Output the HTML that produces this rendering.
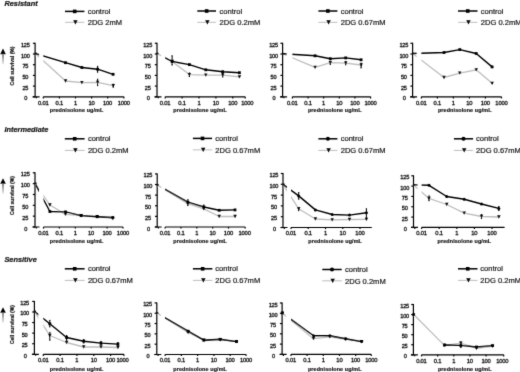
<!DOCTYPE html>
<html><head><meta charset="utf-8"><style>
html,body{margin:0;padding:0;background:#fff;}
body{width:520px;height:372px;overflow:hidden;}
svg{display:block;font-family:"Liberation Sans", sans-serif;}
text{stroke:#111;stroke-width:0.18px;}
</style></head><body>
<svg width="520" height="372" viewBox="0 0 520 372">
<defs><linearGradient id="ag" x1="0" y1="0" x2="0" y2="1"><stop offset="0" stop-color="#777"/><stop offset="1" stop-color="#e8e8e8"/></linearGradient><filter id="bl" filterUnits="userSpaceOnUse" x="0" y="0" width="520" height="372"><feConvolveMatrix order="3" kernelMatrix="0.0113 0.0838 0.0113 0.0838 0.6193 0.0838 0.0113 0.0838 0.0113" edgeMode="none"/></filter></defs>
<rect width="520" height="372" fill="#fff"/>
<g fill="#111" filter="url(#bl)">
<text x="4.4" y="5.7" font-size="7.4" font-weight="bold" font-style="italic">Resistant</text>
<path d="M35.1 42.8V97.3" stroke="#000" stroke-width="1.2"/>
<path d="M32.9 96.8H35.1" stroke="#000" stroke-width="1.2"/>
<text transform="translate(25.8 100.3) scale(1.0 1)" font-size="5.6" font-weight="normal" text-anchor="middle" letter-spacing="-0.2" style="stroke-width:0.3px">0</text>
<path d="M32.9 86.1H35.1" stroke="#000" stroke-width="1.2"/>
<text transform="translate(25.3 89.6) scale(1.0 1)" font-size="5.6" font-weight="normal" text-anchor="middle" letter-spacing="-0.2" style="stroke-width:0.3px">25</text>
<path d="M32.9 75.4H35.1" stroke="#000" stroke-width="1.2"/>
<text transform="translate(25.3 78.9) scale(1.0 1)" font-size="5.6" font-weight="normal" text-anchor="middle" letter-spacing="-0.2" style="stroke-width:0.3px">50</text>
<path d="M32.9 64.7H35.1" stroke="#000" stroke-width="1.2"/>
<text transform="translate(25.3 68.2) scale(1.0 1)" font-size="5.6" font-weight="normal" text-anchor="middle" letter-spacing="-0.2" style="stroke-width:0.3px">75</text>
<path d="M32.9 54H35.1" stroke="#000" stroke-width="1.2"/>
<text transform="translate(25.3 57.5) scale(1.0 1)" font-size="5.6" font-weight="normal" text-anchor="middle" letter-spacing="-0.2" style="stroke-width:0.3px">100</text>
<path d="M32.9 43.3H35.1" stroke="#000" stroke-width="1.2"/>
<text transform="translate(25.3 46.8) scale(1.0 1)" font-size="5.6" font-weight="normal" text-anchor="middle" letter-spacing="-0.2" style="stroke-width:0.3px">125</text>
<path d="M32.6 96.8H39.6M36.4 96.8V98.3" stroke="#000" stroke-width="1.2"/>
<path d="M43.3 96.8H123.9" stroke="#000" stroke-width="1.2"/>
<path d="M43.3 96.8V98.4" stroke="#000" stroke-width="1.2"/>
<text transform="translate(43.2 104.7) scale(1.0 1)" font-size="5.8" font-weight="normal" text-anchor="middle" letter-spacing="-0.2" style="stroke-width:0.3px">0.01</text>
<path d="M59.4 96.8V98.4" stroke="#000" stroke-width="1.2"/>
<text transform="translate(59.3 104.7) scale(1.0 1)" font-size="5.8" font-weight="normal" text-anchor="middle" letter-spacing="-0.2" style="stroke-width:0.3px">0.1</text>
<path d="M75.5 96.8V98.4" stroke="#000" stroke-width="1.2"/>
<text transform="translate(75.4 104.7) scale(1.0 1)" font-size="5.8" font-weight="normal" text-anchor="middle" letter-spacing="-0.2" style="stroke-width:0.3px">1</text>
<path d="M91.6 96.8V98.4" stroke="#000" stroke-width="1.2"/>
<text transform="translate(91.5 104.7) scale(1.0 1)" font-size="5.8" font-weight="normal" text-anchor="middle" letter-spacing="-0.2" style="stroke-width:0.3px">10</text>
<path d="M107.7 96.8V98.4" stroke="#000" stroke-width="1.2"/>
<text transform="translate(107.6 104.7) scale(1.0 1)" font-size="5.8" font-weight="normal" text-anchor="middle" letter-spacing="-0.2" style="stroke-width:0.3px">100</text>
<path d="M123.9 96.8V98.4" stroke="#000" stroke-width="1.2"/>
<text transform="translate(123.8 104.7) scale(1.0 1)" font-size="5.8" font-weight="normal" text-anchor="middle" letter-spacing="-0.2" style="stroke-width:0.3px">1000</text>
<text x="76.6" y="111.6" font-size="5.4" font-weight="bold" letter-spacing="0.12" text-anchor="middle">prednisolone ug/mL</text>
<clipPath id="clip0"><path d="M36 0H520V372H36ZM39.1 23.3H43.3V99.8H39.1Z" clip-rule="evenodd"/></clipPath>
<polyline points="35.1,53.4 65.6,81 81.9,82.7 97.6,82.4 113.2,85.6" fill="none" stroke="#bdbdbd" stroke-width="1.3" stroke-linejoin="round" clip-path="url(#clip0)"/>
<polyline points="35.1,53.4 65.5,62.7 81.9,67.5 97.6,69.2 113.1,74.3" fill="none" stroke="#000" stroke-width="1.4" stroke-linejoin="round" clip-path="url(#clip0)"/>
<path d="M63.79 79.33H67.41L65.6 82.67Z" fill="#000"/>
<path d="M80.09 81.03H83.71L81.9 84.37Z" fill="#000"/>
<path d="M97.6 79.2V85.6M97 79.2H98.2M97 85.6H98.2" stroke="#000" stroke-width="1.0" fill="none"/>
<path d="M95.79 80.73H99.41L97.6 84.07Z" fill="#000"/>
<path d="M113.2 84.2V87.2M112.6 84.2H113.8M112.6 87.2H113.8" stroke="#000" stroke-width="1.0" fill="none"/>
<path d="M111.39 83.93H115.01L113.2 87.27Z" fill="#000"/>
<rect x="34.5" y="52.6" width="2.2" height="1.6"/>
<rect x="64.1" y="61.3" width="2.8" height="2.8" fill="#000"/>
<rect x="80.5" y="66.1" width="2.8" height="2.8" fill="#000"/>
<path d="M97.6 66.3V72.2M97 66.3H98.2M97 72.2H98.2" stroke="#000" stroke-width="1.0" fill="none"/>
<rect x="96.2" y="67.8" width="2.8" height="2.8" fill="#000"/>
<rect x="111.7" y="72.9" width="2.8" height="2.8" fill="#000"/>
<path d="M65 11.4H84.4" stroke="#000" stroke-width="1.5"/>
<rect x="72.9" y="9.6" width="3.6" height="3.6" fill="#000"/>
<text x="87.7" y="14" font-size="7.55">control</text>
<path d="M65 22.3H84.4" stroke="#bdbdbd" stroke-width="1"/>
<path d="M73.09 20.17H77.71L75.4 24.43Z" fill="#000"/>
<text x="87.7" y="25.05" font-size="7.55">2DG 2mM</text>
<text transform="translate(13.8 66) rotate(-90) scale(0.92 1)" font-size="5.5" font-weight="bold" text-anchor="middle">Cell survival (%)</text>
<path d="M3 48.6L5.8 54.2H0.2Z" fill="#000"/>
<rect x="2.1" y="54.2" width="1.8" height="10" fill="url(#ag)"/>
<path d="M157 42.8V97.3" stroke="#000" stroke-width="1.2"/>
<path d="M154.8 96.8H157" stroke="#000" stroke-width="1.2"/>
<text transform="translate(148.2 100.3) scale(1.0 1)" font-size="5.6" font-weight="normal" text-anchor="middle" letter-spacing="-0.2" style="stroke-width:0.3px">0</text>
<path d="M154.8 86.1H157" stroke="#000" stroke-width="1.2"/>
<text transform="translate(147.7 89.6) scale(1.0 1)" font-size="5.6" font-weight="normal" text-anchor="middle" letter-spacing="-0.2" style="stroke-width:0.3px">25</text>
<path d="M154.8 75.4H157" stroke="#000" stroke-width="1.2"/>
<text transform="translate(147.7 78.9) scale(1.0 1)" font-size="5.6" font-weight="normal" text-anchor="middle" letter-spacing="-0.2" style="stroke-width:0.3px">50</text>
<path d="M154.8 64.7H157" stroke="#000" stroke-width="1.2"/>
<text transform="translate(147.7 68.2) scale(1.0 1)" font-size="5.6" font-weight="normal" text-anchor="middle" letter-spacing="-0.2" style="stroke-width:0.3px">75</text>
<path d="M154.8 54H157" stroke="#000" stroke-width="1.2"/>
<text transform="translate(147.7 57.5) scale(1.0 1)" font-size="5.6" font-weight="normal" text-anchor="middle" letter-spacing="-0.2" style="stroke-width:0.3px">100</text>
<path d="M154.8 43.3H157" stroke="#000" stroke-width="1.2"/>
<text transform="translate(147.7 46.8) scale(1.0 1)" font-size="5.6" font-weight="normal" text-anchor="middle" letter-spacing="-0.2" style="stroke-width:0.3px">125</text>
<path d="M154.5 96.8H161.5M158.3 96.8V98.3" stroke="#000" stroke-width="1.2"/>
<path d="M165.2 96.8H245.2" stroke="#000" stroke-width="1.2"/>
<path d="M165.2 96.8V98.4" stroke="#000" stroke-width="1.2"/>
<text transform="translate(165.1 104.7) scale(1.0 1)" font-size="5.8" font-weight="normal" text-anchor="middle" letter-spacing="-0.2" style="stroke-width:0.3px">0.01</text>
<path d="M182.1 96.8V98.4" stroke="#000" stroke-width="1.2"/>
<text transform="translate(182 104.7) scale(1.0 1)" font-size="5.8" font-weight="normal" text-anchor="middle" letter-spacing="-0.2" style="stroke-width:0.3px">0.1</text>
<path d="M199 96.8V98.4" stroke="#000" stroke-width="1.2"/>
<text transform="translate(198.9 104.7) scale(1.0 1)" font-size="5.8" font-weight="normal" text-anchor="middle" letter-spacing="-0.2" style="stroke-width:0.3px">1</text>
<path d="M215.9 96.8V98.4" stroke="#000" stroke-width="1.2"/>
<text transform="translate(215.8 104.7) scale(1.0 1)" font-size="5.8" font-weight="normal" text-anchor="middle" letter-spacing="-0.2" style="stroke-width:0.3px">10</text>
<path d="M232.8 96.8V98.4" stroke="#000" stroke-width="1.2"/>
<text transform="translate(232.7 104.7) scale(1.0 1)" font-size="5.8" font-weight="normal" text-anchor="middle" letter-spacing="-0.2" style="stroke-width:0.3px">100</text>
<path d="M245.2 96.8V98.4" stroke="#000" stroke-width="1.2"/>
<text transform="translate(247.3 104.7) scale(1.0 1)" font-size="5.8" font-weight="normal" text-anchor="middle" letter-spacing="-0.2" style="stroke-width:0.3px">1000</text>
<text x="200.1" y="111.6" font-size="5.4" font-weight="bold" letter-spacing="0.12" text-anchor="middle">prednisolone ug/mL</text>
<clipPath id="clip1"><path d="M157.9 0H520V372H157.9ZM161 23.3H165.2V99.8H161Z" clip-rule="evenodd"/></clipPath>
<polyline points="157,53.5 172.1,61.5 189.4,74.6 205.8,75.2 222.7,75.2 239.4,76.9" fill="none" stroke="#bdbdbd" stroke-width="1.3" stroke-linejoin="round" clip-path="url(#clip1)"/>
<clipPath id="clip1n"><rect x="165.2" y="0" width="520" height="372"/></clipPath>
<polyline points="157,53.5 172.1,61.5 189.4,64.6 205.8,69.8 222.7,71.7 239.4,72.7" fill="none" stroke="#000" stroke-width="1.4" stroke-linejoin="round" clip-path="url(#clip1n)"/>
<path d="M170.29 59.83H173.91L172.1 63.17Z" fill="#000"/>
<path d="M189.4 73V76.5M188.8 73H190M188.8 76.5H190" stroke="#000" stroke-width="1.0" fill="none"/>
<path d="M187.59 72.93H191.21L189.4 76.27Z" fill="#000"/>
<path d="M203.99 73.53H207.61L205.8 76.87Z" fill="#000"/>
<path d="M222.7 73.5V77M222.1 73.5H223.3M222.1 77H223.3" stroke="#000" stroke-width="1.0" fill="none"/>
<path d="M220.89 73.53H224.51L222.7 76.87Z" fill="#000"/>
<path d="M237.59 75.23H241.21L239.4 78.57Z" fill="#000"/>
<rect x="156.4" y="52.7" width="2.2" height="1.6"/>
<path d="M172.1 55.8V65M171.5 55.8H172.7M171.5 65H172.7" stroke="#000" stroke-width="1.0" fill="none"/>
<rect x="170.7" y="60.1" width="2.8" height="2.8" fill="#000"/>
<rect x="188" y="63.2" width="2.8" height="2.8" fill="#000"/>
<rect x="204.4" y="68.4" width="2.8" height="2.8" fill="#000"/>
<rect x="221.3" y="70.3" width="2.8" height="2.8" fill="#000"/>
<rect x="238" y="71.3" width="2.8" height="2.8" fill="#000"/>
<path d="M197.3 11H216" stroke="#000" stroke-width="1.5"/>
<rect x="204.85" y="9.2" width="3.6" height="3.6" fill="#000"/>
<text x="219.6" y="13.6" font-size="7.55">control</text>
<path d="M197.3 22.3H216" stroke="#bdbdbd" stroke-width="1"/>
<path d="M205.04 20.17H209.66L207.35 24.43Z" fill="#000"/>
<text x="219.6" y="25.05" font-size="7.55">2DG 0.2mM</text>
<path d="M282.6 42.8V97.3" stroke="#000" stroke-width="1.2"/>
<path d="M280.4 96.8H282.6" stroke="#000" stroke-width="1.2"/>
<text transform="translate(274 100.3) scale(1.0 1)" font-size="5.6" font-weight="normal" text-anchor="middle" letter-spacing="-0.2" style="stroke-width:0.3px">0</text>
<path d="M280.4 86.1H282.6" stroke="#000" stroke-width="1.2"/>
<text transform="translate(273.5 89.6) scale(1.0 1)" font-size="5.6" font-weight="normal" text-anchor="middle" letter-spacing="-0.2" style="stroke-width:0.3px">25</text>
<path d="M280.4 75.4H282.6" stroke="#000" stroke-width="1.2"/>
<text transform="translate(273.5 78.9) scale(1.0 1)" font-size="5.6" font-weight="normal" text-anchor="middle" letter-spacing="-0.2" style="stroke-width:0.3px">50</text>
<path d="M280.4 64.7H282.6" stroke="#000" stroke-width="1.2"/>
<text transform="translate(273.5 68.2) scale(1.0 1)" font-size="5.6" font-weight="normal" text-anchor="middle" letter-spacing="-0.2" style="stroke-width:0.3px">75</text>
<path d="M280.4 54H282.6" stroke="#000" stroke-width="1.2"/>
<text transform="translate(273.5 57.5) scale(1.0 1)" font-size="5.6" font-weight="normal" text-anchor="middle" letter-spacing="-0.2" style="stroke-width:0.3px">100</text>
<path d="M280.4 43.3H282.6" stroke="#000" stroke-width="1.2"/>
<text transform="translate(273.5 46.8) scale(1.0 1)" font-size="5.6" font-weight="normal" text-anchor="middle" letter-spacing="-0.2" style="stroke-width:0.3px">125</text>
<path d="M280.1 96.8H287.1M283.9 96.8V98.3" stroke="#000" stroke-width="1.2"/>
<path d="M292.4 96.8H370.6" stroke="#000" stroke-width="1.2"/>
<path d="M292.4 96.8V98.4" stroke="#000" stroke-width="1.2"/>
<text transform="translate(292.3 104.7) scale(1.0 1)" font-size="5.8" font-weight="normal" text-anchor="middle" letter-spacing="-0.2" style="stroke-width:0.3px">0.01</text>
<path d="M308.04 96.8V98.4" stroke="#000" stroke-width="1.2"/>
<text transform="translate(307.94 104.7) scale(1.0 1)" font-size="5.8" font-weight="normal" text-anchor="middle" letter-spacing="-0.2" style="stroke-width:0.3px">0.1</text>
<path d="M323.68 96.8V98.4" stroke="#000" stroke-width="1.2"/>
<text transform="translate(323.58 104.7) scale(1.0 1)" font-size="5.8" font-weight="normal" text-anchor="middle" letter-spacing="-0.2" style="stroke-width:0.3px">1</text>
<path d="M339.32 96.8V98.4" stroke="#000" stroke-width="1.2"/>
<text transform="translate(339.22 104.7) scale(1.0 1)" font-size="5.8" font-weight="normal" text-anchor="middle" letter-spacing="-0.2" style="stroke-width:0.3px">10</text>
<path d="M354.96 96.8V98.4" stroke="#000" stroke-width="1.2"/>
<text transform="translate(354.86 104.7) scale(1.0 1)" font-size="5.8" font-weight="normal" text-anchor="middle" letter-spacing="-0.2" style="stroke-width:0.3px">100</text>
<path d="M370.6 96.8V98.4" stroke="#000" stroke-width="1.2"/>
<text transform="translate(370.5 104.7) scale(1.0 1)" font-size="5.8" font-weight="normal" text-anchor="middle" letter-spacing="-0.2" style="stroke-width:0.3px">1000</text>
<text x="334.8" y="111.6" font-size="5.4" font-weight="bold" letter-spacing="0.12" text-anchor="middle">prednisolone ug/mL</text>
<clipPath id="clip2"><path d="M283.5 0H520V372H283.5ZM286.6 23.3H292.4V99.8H286.6Z" clip-rule="evenodd"/></clipPath>
<polyline points="282.6,53.7 315.1,67.3 330.3,62.7 345.7,63.1 361.1,65" fill="none" stroke="#bdbdbd" stroke-width="1.3" stroke-linejoin="round" clip-path="url(#clip2)"/>
<polyline points="282.6,53.7 315.1,55.8 330.3,58.7 345.7,57.9 361.1,59.8" fill="none" stroke="#000" stroke-width="1.4" stroke-linejoin="round" clip-path="url(#clip2)"/>
<path d="M313.29 65.63H316.91L315.1 68.97Z" fill="#000"/>
<path d="M330.3 61.2V64.5M329.7 61.2H330.9M329.7 64.5H330.9" stroke="#000" stroke-width="1.0" fill="none"/>
<path d="M328.49 61.03H332.11L330.3 64.37Z" fill="#000"/>
<path d="M345.7 61.5V64.8M345.1 61.5H346.3M345.1 64.8H346.3" stroke="#000" stroke-width="1.0" fill="none"/>
<path d="M343.89 61.43H347.51L345.7 64.77Z" fill="#000"/>
<path d="M361.1 63.2V67.9M360.5 63.2H361.7M360.5 67.9H361.7" stroke="#000" stroke-width="1.0" fill="none"/>
<path d="M359.29 63.33H362.91L361.1 66.67Z" fill="#000"/>
<rect x="282" y="52.9" width="2.2" height="1.6"/>
<rect x="313.7" y="54.4" width="2.8" height="2.8" fill="#000"/>
<rect x="328.9" y="57.3" width="2.8" height="2.8" fill="#000"/>
<rect x="344.3" y="56.5" width="2.8" height="2.8" fill="#000"/>
<rect x="359.7" y="58.4" width="2.8" height="2.8" fill="#000"/>
<path d="M318.4 11H337.4" stroke="#000" stroke-width="1.5"/>
<rect x="326.1" y="9.2" width="3.6" height="3.6" fill="#000"/>
<text x="340.7" y="13.6" font-size="7.55">control</text>
<path d="M318.4 22.3H337.4" stroke="#bdbdbd" stroke-width="1"/>
<path d="M326.29 20.17H330.91L328.6 24.43Z" fill="#000"/>
<text x="340.7" y="25.05" font-size="7.55">2DG 0.67mM</text>
<path d="M412.6 42.8V97.3" stroke="#000" stroke-width="1.2"/>
<path d="M410.4 96.8H412.6" stroke="#000" stroke-width="1.2"/>
<text transform="translate(404.3 100.3) scale(1.0 1)" font-size="5.6" font-weight="normal" text-anchor="middle" letter-spacing="-0.2" style="stroke-width:0.3px">0</text>
<path d="M410.4 86.1H412.6" stroke="#000" stroke-width="1.2"/>
<text transform="translate(403.8 89.6) scale(1.0 1)" font-size="5.6" font-weight="normal" text-anchor="middle" letter-spacing="-0.2" style="stroke-width:0.3px">25</text>
<path d="M410.4 75.4H412.6" stroke="#000" stroke-width="1.2"/>
<text transform="translate(403.8 78.9) scale(1.0 1)" font-size="5.6" font-weight="normal" text-anchor="middle" letter-spacing="-0.2" style="stroke-width:0.3px">50</text>
<path d="M410.4 64.7H412.6" stroke="#000" stroke-width="1.2"/>
<text transform="translate(403.8 68.2) scale(1.0 1)" font-size="5.6" font-weight="normal" text-anchor="middle" letter-spacing="-0.2" style="stroke-width:0.3px">75</text>
<path d="M410.4 54H412.6" stroke="#000" stroke-width="1.2"/>
<text transform="translate(403.8 57.5) scale(1.0 1)" font-size="5.6" font-weight="normal" text-anchor="middle" letter-spacing="-0.2" style="stroke-width:0.3px">100</text>
<path d="M410.4 43.3H412.6" stroke="#000" stroke-width="1.2"/>
<text transform="translate(403.8 46.8) scale(1.0 1)" font-size="5.6" font-weight="normal" text-anchor="middle" letter-spacing="-0.2" style="stroke-width:0.3px">125</text>
<path d="M410.1 96.8H417.1M413.9 96.8V98.3" stroke="#000" stroke-width="1.2"/>
<path d="M421.4 96.8H501.5" stroke="#000" stroke-width="1.2"/>
<path d="M421.4 96.8V98.4" stroke="#000" stroke-width="1.2"/>
<text transform="translate(421.3 104.7) scale(1.0 1)" font-size="5.8" font-weight="normal" text-anchor="middle" letter-spacing="-0.2" style="stroke-width:0.3px">0.01</text>
<path d="M437.4 96.8V98.4" stroke="#000" stroke-width="1.2"/>
<text transform="translate(437.3 104.7) scale(1.0 1)" font-size="5.8" font-weight="normal" text-anchor="middle" letter-spacing="-0.2" style="stroke-width:0.3px">0.1</text>
<path d="M453.4 96.8V98.4" stroke="#000" stroke-width="1.2"/>
<text transform="translate(453.3 104.7) scale(1.0 1)" font-size="5.8" font-weight="normal" text-anchor="middle" letter-spacing="-0.2" style="stroke-width:0.3px">1</text>
<path d="M469.4 96.8V98.4" stroke="#000" stroke-width="1.2"/>
<text transform="translate(469.3 104.7) scale(1.0 1)" font-size="5.8" font-weight="normal" text-anchor="middle" letter-spacing="-0.2" style="stroke-width:0.3px">10</text>
<path d="M485.4 96.8V98.4" stroke="#000" stroke-width="1.2"/>
<text transform="translate(485.3 104.7) scale(1.0 1)" font-size="5.8" font-weight="normal" text-anchor="middle" letter-spacing="-0.2" style="stroke-width:0.3px">100</text>
<path d="M501.5 96.8V98.4" stroke="#000" stroke-width="1.2"/>
<text transform="translate(501.4 104.7) scale(1.0 1)" font-size="5.8" font-weight="normal" text-anchor="middle" letter-spacing="-0.2" style="stroke-width:0.3px">1000</text>
<text x="464.8" y="111.6" font-size="5.4" font-weight="bold" letter-spacing="0.12" text-anchor="middle">prednisolone ug/mL</text>
<clipPath id="clip3"><path d="M413.5 0H520V372H413.5ZM416.6 23.3H421.4V99.8H416.6Z" clip-rule="evenodd"/></clipPath>
<polyline points="412.6,53.5 444,77.5 459.8,73.1 476.2,69.8 492.1,83.3" fill="none" stroke="#bdbdbd" stroke-width="1.3" stroke-linejoin="round" clip-path="url(#clip3)"/>
<polyline points="412.6,53.5 444,52.5 459.8,49.6 476.2,53.5 492.1,66.9" fill="none" stroke="#000" stroke-width="1.4" stroke-linejoin="round" clip-path="url(#clip3)"/>
<path d="M442.19 75.83H445.81L444 79.17Z" fill="#000"/>
<path d="M457.99 71.43H461.61L459.8 74.77Z" fill="#000"/>
<path d="M474.39 68.13H478.01L476.2 71.47Z" fill="#000"/>
<path d="M490.29 81.63H493.91L492.1 84.97Z" fill="#000"/>
<rect x="412" y="52.7" width="2.2" height="1.6"/>
<rect x="442.6" y="51.1" width="2.8" height="2.8" fill="#000"/>
<rect x="458.4" y="48.2" width="2.8" height="2.8" fill="#000"/>
<rect x="474.8" y="52.1" width="2.8" height="2.8" fill="#000"/>
<rect x="490.7" y="65.5" width="2.8" height="2.8" fill="#000"/>
<path d="M458 11H477.5" stroke="#000" stroke-width="1.5"/>
<rect x="465.95" y="9.2" width="3.6" height="3.6" fill="#000"/>
<text x="480.8" y="13.6" font-size="7.55">control</text>
<path d="M458 22.3H477.5" stroke="#bdbdbd" stroke-width="1"/>
<path d="M466.14 20.17H470.76L468.45 24.43Z" fill="#000"/>
<text x="480.8" y="25.05" font-size="7.55">2DG 0.2mM</text>
<text x="4.4" y="131.9" font-size="7.4" font-weight="bold" font-style="italic">Intermediate</text>
<path d="M35 172.3V227.5" stroke="#000" stroke-width="1.2"/>
<path d="M32.8 227H35" stroke="#000" stroke-width="1.2"/>
<text transform="translate(25.7 230.5) scale(1.0 1)" font-size="5.6" font-weight="normal" text-anchor="middle" letter-spacing="-0.2" style="stroke-width:0.3px">0</text>
<path d="M32.8 216.16H35" stroke="#000" stroke-width="1.2"/>
<text transform="translate(25.2 219.66) scale(1.0 1)" font-size="5.6" font-weight="normal" text-anchor="middle" letter-spacing="-0.2" style="stroke-width:0.3px">25</text>
<path d="M32.8 205.32H35" stroke="#000" stroke-width="1.2"/>
<text transform="translate(25.2 208.82) scale(1.0 1)" font-size="5.6" font-weight="normal" text-anchor="middle" letter-spacing="-0.2" style="stroke-width:0.3px">50</text>
<path d="M32.8 194.48H35" stroke="#000" stroke-width="1.2"/>
<text transform="translate(25.2 197.98) scale(1.0 1)" font-size="5.6" font-weight="normal" text-anchor="middle" letter-spacing="-0.2" style="stroke-width:0.3px">75</text>
<path d="M32.8 183.64H35" stroke="#000" stroke-width="1.2"/>
<text transform="translate(25.2 187.14) scale(1.0 1)" font-size="5.6" font-weight="normal" text-anchor="middle" letter-spacing="-0.2" style="stroke-width:0.3px">100</text>
<path d="M32.8 172.8H35" stroke="#000" stroke-width="1.2"/>
<text transform="translate(25.2 176.3) scale(1.0 1)" font-size="5.6" font-weight="normal" text-anchor="middle" letter-spacing="-0.2" style="stroke-width:0.3px">125</text>
<path d="M32.5 227H39.5M36.3 227V228.5" stroke="#000" stroke-width="1.2"/>
<path d="M43.5 227H123" stroke="#000" stroke-width="1.2"/>
<path d="M43.5 227V228.6" stroke="#000" stroke-width="1.2"/>
<text transform="translate(43.4 234.9) scale(1.0 1)" font-size="5.8" font-weight="normal" text-anchor="middle" letter-spacing="-0.2" style="stroke-width:0.3px">0.01</text>
<path d="M59.4 227V228.6" stroke="#000" stroke-width="1.2"/>
<text transform="translate(59.3 234.9) scale(1.0 1)" font-size="5.8" font-weight="normal" text-anchor="middle" letter-spacing="-0.2" style="stroke-width:0.3px">0.1</text>
<path d="M75.3 227V228.6" stroke="#000" stroke-width="1.2"/>
<text transform="translate(75.2 234.9) scale(1.0 1)" font-size="5.8" font-weight="normal" text-anchor="middle" letter-spacing="-0.2" style="stroke-width:0.3px">1</text>
<path d="M91.2 227V228.6" stroke="#000" stroke-width="1.2"/>
<text transform="translate(91.1 234.9) scale(1.0 1)" font-size="5.8" font-weight="normal" text-anchor="middle" letter-spacing="-0.2" style="stroke-width:0.3px">10</text>
<path d="M107.1 227V228.6" stroke="#000" stroke-width="1.2"/>
<text transform="translate(107 234.9) scale(1.0 1)" font-size="5.8" font-weight="normal" text-anchor="middle" letter-spacing="-0.2" style="stroke-width:0.3px">100</text>
<path d="M123 227V228.6" stroke="#000" stroke-width="1.2"/>
<text transform="translate(122.9 234.9) scale(1.0 1)" font-size="5.8" font-weight="normal" text-anchor="middle" letter-spacing="-0.2" style="stroke-width:0.3px">1000</text>
<text x="76.7" y="243" font-size="5.4" font-weight="bold" letter-spacing="0.12" text-anchor="middle">prednisolone ug/mL</text>
<clipPath id="clip4"><path d="M35.9 0H520V372H35.9ZM39 152.8H43.5V230H39Z" clip-rule="evenodd"/></clipPath>
<polyline points="35,183.3 49.9,205 65.5,214.4 81.1,215.6 97.2,216.7 112.8,218.7" fill="none" stroke="#bdbdbd" stroke-width="1.3" stroke-linejoin="round" clip-path="url(#clip4)"/>
<polyline points="35,183.3 49.9,211.5 65.5,211.9 81.1,215.6 97.2,216.7 112.8,217.5" fill="none" stroke="#000" stroke-width="1.4" stroke-linejoin="round" clip-path="url(#clip4)"/>
<path d="M48.09 203.33H51.71L49.9 206.67Z" fill="#000"/>
<path d="M63.69 212.73H67.31L65.5 216.07Z" fill="#000"/>
<path d="M79.29 213.93H82.91L81.1 217.27Z" fill="#000"/>
<path d="M95.39 215.03H99.01L97.2 218.37Z" fill="#000"/>
<path d="M110.99 217.03H114.61L112.8 220.37Z" fill="#000"/>
<rect x="34.4" y="182.5" width="2.2" height="1.6"/>
<rect x="48.5" y="210.1" width="2.8" height="2.8" fill="#000"/>
<rect x="64.1" y="210.5" width="2.8" height="2.8" fill="#000"/>
<rect x="79.7" y="214.2" width="2.8" height="2.8" fill="#000"/>
<rect x="95.8" y="215.3" width="2.8" height="2.8" fill="#000"/>
<rect x="111.4" y="216.1" width="2.8" height="2.8" fill="#000"/>
<path d="M64.8 138.8H84.6" stroke="#000" stroke-width="1.5"/>
<rect x="72.9" y="137" width="3.6" height="3.6" fill="#000"/>
<text x="87.9" y="141.4" font-size="7.55">control</text>
<path d="M64.8 150.4H84.6" stroke="#bdbdbd" stroke-width="1"/>
<path d="M73.09 148.27H77.71L75.4 152.53Z" fill="#000"/>
<text x="87.9" y="153.15" font-size="7.55">2DG 0.2mM</text>
<text transform="translate(13.8 195.6) rotate(-90) scale(0.92 1)" font-size="5.5" font-weight="bold" text-anchor="middle">Cell survival (%)</text>
<path d="M3 178.2L5.8 183.8H0.2Z" fill="#000"/>
<rect x="2.1" y="183.8" width="1.8" height="10" fill="url(#ag)"/>
<path d="M157.2 173.4V227.5" stroke="#000" stroke-width="1.2"/>
<path d="M155 227H157.2" stroke="#000" stroke-width="1.2"/>
<text transform="translate(148.4 230.5) scale(1.0 1)" font-size="5.6" font-weight="normal" text-anchor="middle" letter-spacing="-0.2" style="stroke-width:0.3px">0</text>
<path d="M155 216.38H157.2" stroke="#000" stroke-width="1.2"/>
<text transform="translate(147.9 219.88) scale(1.0 1)" font-size="5.6" font-weight="normal" text-anchor="middle" letter-spacing="-0.2" style="stroke-width:0.3px">25</text>
<path d="M155 205.76H157.2" stroke="#000" stroke-width="1.2"/>
<text transform="translate(147.9 209.26) scale(1.0 1)" font-size="5.6" font-weight="normal" text-anchor="middle" letter-spacing="-0.2" style="stroke-width:0.3px">50</text>
<path d="M155 195.14H157.2" stroke="#000" stroke-width="1.2"/>
<text transform="translate(147.9 198.64) scale(1.0 1)" font-size="5.6" font-weight="normal" text-anchor="middle" letter-spacing="-0.2" style="stroke-width:0.3px">75</text>
<path d="M155 184.52H157.2" stroke="#000" stroke-width="1.2"/>
<text transform="translate(147.9 188.02) scale(1.0 1)" font-size="5.6" font-weight="normal" text-anchor="middle" letter-spacing="-0.2" style="stroke-width:0.3px">100</text>
<path d="M155 173.9H157.2" stroke="#000" stroke-width="1.2"/>
<text transform="translate(147.9 177.4) scale(1.0 1)" font-size="5.6" font-weight="normal" text-anchor="middle" letter-spacing="-0.2" style="stroke-width:0.3px">125</text>
<path d="M154.7 227H161.7M158.5 227V228.5" stroke="#000" stroke-width="1.2"/>
<path d="M165.1 227H245.2" stroke="#000" stroke-width="1.2"/>
<path d="M165.1 227V228.6" stroke="#000" stroke-width="1.2"/>
<text transform="translate(165 234.9) scale(1.0 1)" font-size="5.8" font-weight="normal" text-anchor="middle" letter-spacing="-0.2" style="stroke-width:0.3px">0.01</text>
<path d="M180.95 227V228.6" stroke="#000" stroke-width="1.2"/>
<text transform="translate(180.85 234.9) scale(1.0 1)" font-size="5.8" font-weight="normal" text-anchor="middle" letter-spacing="-0.2" style="stroke-width:0.3px">0.1</text>
<path d="M196.8 227V228.6" stroke="#000" stroke-width="1.2"/>
<text transform="translate(196.7 234.9) scale(1.0 1)" font-size="5.8" font-weight="normal" text-anchor="middle" letter-spacing="-0.2" style="stroke-width:0.3px">1</text>
<path d="M212.65 227V228.6" stroke="#000" stroke-width="1.2"/>
<text transform="translate(212.55 234.9) scale(1.0 1)" font-size="5.8" font-weight="normal" text-anchor="middle" letter-spacing="-0.2" style="stroke-width:0.3px">10</text>
<path d="M228.5 227V228.6" stroke="#000" stroke-width="1.2"/>
<text transform="translate(228.4 234.9) scale(1.0 1)" font-size="5.8" font-weight="normal" text-anchor="middle" letter-spacing="-0.2" style="stroke-width:0.3px">100</text>
<path d="M245.2 227V228.6" stroke="#000" stroke-width="1.2"/>
<text transform="translate(244.6 234.9) scale(1.0 1)" font-size="5.8" font-weight="normal" text-anchor="middle" letter-spacing="-0.2" style="stroke-width:0.3px">1000</text>
<text x="200.2" y="243" font-size="5.4" font-weight="bold" letter-spacing="0.12" text-anchor="middle">prednisolone ug/mL</text>
<clipPath id="clip5"><path d="M158.1 0H520V372H158.1ZM161.2 153.9H165.1V230H161.2Z" clip-rule="evenodd"/></clipPath>
<polyline points="157.2,184.9 187.9,203.6 203.8,208.8 219.2,216.5 235,216.5" fill="none" stroke="#bdbdbd" stroke-width="1.3" stroke-linejoin="round" clip-path="url(#clip5)"/>
<clipPath id="clip5n"><rect x="165.1" y="0" width="520" height="372"/></clipPath>
<polyline points="157.2,184.9 187.9,202.2 203.8,207 219.2,210.3 235,209.9" fill="none" stroke="#000" stroke-width="1.4" stroke-linejoin="round" clip-path="url(#clip5n)"/>
<path d="M186.09 201.93H189.71L187.9 205.27Z" fill="#000"/>
<path d="M201.99 207.13H205.61L203.8 210.47Z" fill="#000"/>
<path d="M217.39 214.83H221.01L219.2 218.17Z" fill="#000"/>
<path d="M233.19 214.83H236.81L235 218.17Z" fill="#000"/>
<rect x="156.6" y="184.1" width="2.2" height="1.6"/>
<path d="M187.9 199.7V205.5M187.3 199.7H188.5M187.3 205.5H188.5" stroke="#000" stroke-width="1.0" fill="none"/>
<rect x="186.5" y="200.8" width="2.8" height="2.8" fill="#000"/>
<path d="M203.8 205V209M203.2 205H204.4M203.2 209H204.4" stroke="#000" stroke-width="1.0" fill="none"/>
<rect x="202.4" y="205.6" width="2.8" height="2.8" fill="#000"/>
<rect x="217.8" y="208.9" width="2.8" height="2.8" fill="#000"/>
<rect x="233.6" y="208.5" width="2.8" height="2.8" fill="#000"/>
<path d="M192.9 138.4H212.1" stroke="#000" stroke-width="1.5"/>
<rect x="200.7" y="136.6" width="3.6" height="3.6" fill="#000"/>
<text x="215.3" y="141" font-size="7.55">control</text>
<path d="M192.9 149.9H212.1" stroke="#bdbdbd" stroke-width="1"/>
<path d="M200.89 147.77H205.51L203.2 152.03Z" fill="#000"/>
<text x="215.3" y="152.65" font-size="7.55">2DG 0.67mM</text>
<path d="M283 173V228" stroke="#000" stroke-width="1.2"/>
<path d="M280.8 227.5H283" stroke="#000" stroke-width="1.2"/>
<text transform="translate(274.4 231) scale(1.0 1)" font-size="5.6" font-weight="normal" text-anchor="middle" letter-spacing="-0.2" style="stroke-width:0.3px">0</text>
<path d="M280.8 216.7H283" stroke="#000" stroke-width="1.2"/>
<text transform="translate(273.9 220.2) scale(1.0 1)" font-size="5.6" font-weight="normal" text-anchor="middle" letter-spacing="-0.2" style="stroke-width:0.3px">25</text>
<path d="M280.8 205.9H283" stroke="#000" stroke-width="1.2"/>
<text transform="translate(273.9 209.4) scale(1.0 1)" font-size="5.6" font-weight="normal" text-anchor="middle" letter-spacing="-0.2" style="stroke-width:0.3px">50</text>
<path d="M280.8 195.1H283" stroke="#000" stroke-width="1.2"/>
<text transform="translate(273.9 198.6) scale(1.0 1)" font-size="5.6" font-weight="normal" text-anchor="middle" letter-spacing="-0.2" style="stroke-width:0.3px">75</text>
<path d="M280.8 184.3H283" stroke="#000" stroke-width="1.2"/>
<text transform="translate(273.9 187.8) scale(1.0 1)" font-size="5.6" font-weight="normal" text-anchor="middle" letter-spacing="-0.2" style="stroke-width:0.3px">100</text>
<path d="M280.8 173.5H283" stroke="#000" stroke-width="1.2"/>
<text transform="translate(273.9 177) scale(1.0 1)" font-size="5.6" font-weight="normal" text-anchor="middle" letter-spacing="-0.2" style="stroke-width:0.3px">125</text>
<path d="M280.5 227.5H287.5M284.3 227.5V229" stroke="#000" stroke-width="1.2"/>
<path d="M291 227.5H371.8" stroke="#000" stroke-width="1.2"/>
<path d="M291 227.5V229.1" stroke="#000" stroke-width="1.2"/>
<text transform="translate(290.9 235.4) scale(1.0 1)" font-size="5.8" font-weight="normal" text-anchor="middle" letter-spacing="-0.2" style="stroke-width:0.3px">0.01</text>
<path d="M308.25 227.5V229.1" stroke="#000" stroke-width="1.2"/>
<text transform="translate(308.15 235.4) scale(1.0 1)" font-size="5.8" font-weight="normal" text-anchor="middle" letter-spacing="-0.2" style="stroke-width:0.3px">0.1</text>
<path d="M325.5 227.5V229.1" stroke="#000" stroke-width="1.2"/>
<text transform="translate(325.4 235.4) scale(1.0 1)" font-size="5.8" font-weight="normal" text-anchor="middle" letter-spacing="-0.2" style="stroke-width:0.3px">1</text>
<path d="M342.75 227.5V229.1" stroke="#000" stroke-width="1.2"/>
<text transform="translate(342.65 235.4) scale(1.0 1)" font-size="5.8" font-weight="normal" text-anchor="middle" letter-spacing="-0.2" style="stroke-width:0.3px">10</text>
<path d="M360 227.5V229.1" stroke="#000" stroke-width="1.2"/>
<text transform="translate(359.9 235.4) scale(1.0 1)" font-size="5.8" font-weight="normal" text-anchor="middle" letter-spacing="-0.2" style="stroke-width:0.3px">100</text>
<text x="335.2" y="243" font-size="5.4" font-weight="bold" letter-spacing="0.12" text-anchor="middle">prednisolone ug/mL</text>
<clipPath id="clip6"><path d="M283.9 0H520V372H283.9ZM287 153.5H291V230.5H287Z" clip-rule="evenodd"/></clipPath>
<polyline points="283,184.3 298.7,208.8 315.4,219 332.2,219.9 349.5,219.5 366.4,219.3" fill="none" stroke="#bdbdbd" stroke-width="1.3" stroke-linejoin="round" clip-path="url(#clip6)"/>
<polyline points="283,184.3 298.7,195.9 315.4,209.9 332.2,214.5 349.5,215.1 366.4,212.8" fill="none" stroke="#000" stroke-width="1.4" stroke-linejoin="round" clip-path="url(#clip6)"/>
<path d="M298.7 207.4V210.7M298.1 207.4H299.3M298.1 210.7H299.3" stroke="#000" stroke-width="1.0" fill="none"/>
<path d="M296.89 207.13H300.51L298.7 210.47Z" fill="#000"/>
<path d="M313.59 217.33H317.21L315.4 220.67Z" fill="#000"/>
<path d="M330.39 218.23H334.01L332.2 221.57Z" fill="#000"/>
<path d="M347.69 217.83H351.31L349.5 221.17Z" fill="#000"/>
<path d="M364.59 217.63H368.21L366.4 220.97Z" fill="#000"/>
<rect x="282.4" y="183.5" width="2.2" height="1.6"/>
<path d="M298.7 192.6V199.2M298.1 192.6H299.3M298.1 199.2H299.3" stroke="#000" stroke-width="1.0" fill="none"/>
<circle cx="298.7" cy="195.9" r="1.5" fill="#000"/>
<circle cx="315.4" cy="209.9" r="1.5" fill="#000"/>
<circle cx="332.2" cy="214.5" r="1.5" fill="#000"/>
<circle cx="349.5" cy="215.1" r="1.5" fill="#000"/>
<path d="M366.4 208.8V218M365.8 208.8H367M365.8 218H367" stroke="#000" stroke-width="1.0" fill="none"/>
<circle cx="366.4" cy="212.8" r="1.5" fill="#000"/>
<path d="M318.4 138.8H337.4" stroke="#000" stroke-width="1.5"/>
<circle cx="327.9" cy="138.8" r="2.05" fill="#000"/>
<text x="340.7" y="141.4" font-size="7.55">control</text>
<path d="M318.4 150.4H337.4" stroke="#bdbdbd" stroke-width="1"/>
<path d="M326.29 148.27H330.91L328.6 152.53Z" fill="#000"/>
<text x="340.7" y="153.15" font-size="7.55">2DG 0.67mM</text>
<path d="M413.5 175.3V227.9" stroke="#000" stroke-width="1.2"/>
<path d="M411.3 227.4H413.5" stroke="#000" stroke-width="1.2"/>
<text transform="translate(405.2 230.9) scale(1.0 1)" font-size="5.6" font-weight="normal" text-anchor="middle" letter-spacing="-0.2" style="stroke-width:0.3px">0</text>
<path d="M411.3 217.08H413.5" stroke="#000" stroke-width="1.2"/>
<text transform="translate(404.7 220.58) scale(1.0 1)" font-size="5.6" font-weight="normal" text-anchor="middle" letter-spacing="-0.2" style="stroke-width:0.3px">25</text>
<path d="M411.3 206.76H413.5" stroke="#000" stroke-width="1.2"/>
<text transform="translate(404.7 210.26) scale(1.0 1)" font-size="5.6" font-weight="normal" text-anchor="middle" letter-spacing="-0.2" style="stroke-width:0.3px">50</text>
<path d="M411.3 196.44H413.5" stroke="#000" stroke-width="1.2"/>
<text transform="translate(404.7 199.94) scale(1.0 1)" font-size="5.6" font-weight="normal" text-anchor="middle" letter-spacing="-0.2" style="stroke-width:0.3px">75</text>
<path d="M411.3 186.12H413.5" stroke="#000" stroke-width="1.2"/>
<text transform="translate(404.7 189.62) scale(1.0 1)" font-size="5.6" font-weight="normal" text-anchor="middle" letter-spacing="-0.2" style="stroke-width:0.3px">100</text>
<path d="M411.3 175.8H413.5" stroke="#000" stroke-width="1.2"/>
<text transform="translate(404.7 179.3) scale(1.0 1)" font-size="5.6" font-weight="normal" text-anchor="middle" letter-spacing="-0.2" style="stroke-width:0.3px">125</text>
<path d="M411 227.4H418M414.8 227.4V228.9" stroke="#000" stroke-width="1.2"/>
<path d="M421.6 227.4H504.6" stroke="#000" stroke-width="1.2"/>
<path d="M421.6 227.4V229" stroke="#000" stroke-width="1.2"/>
<text transform="translate(421.5 235.3) scale(1.0 1)" font-size="5.8" font-weight="normal" text-anchor="middle" letter-spacing="-0.2" style="stroke-width:0.3px">0.01</text>
<path d="M439.2 227.4V229" stroke="#000" stroke-width="1.2"/>
<text transform="translate(439.1 235.3) scale(1.0 1)" font-size="5.8" font-weight="normal" text-anchor="middle" letter-spacing="-0.2" style="stroke-width:0.3px">0.1</text>
<path d="M456.8 227.4V229" stroke="#000" stroke-width="1.2"/>
<text transform="translate(456.7 235.3) scale(1.0 1)" font-size="5.8" font-weight="normal" text-anchor="middle" letter-spacing="-0.2" style="stroke-width:0.3px">1</text>
<path d="M474.4 227.4V229" stroke="#000" stroke-width="1.2"/>
<text transform="translate(474.3 235.3) scale(1.0 1)" font-size="5.8" font-weight="normal" text-anchor="middle" letter-spacing="-0.2" style="stroke-width:0.3px">10</text>
<path d="M492 227.4V229" stroke="#000" stroke-width="1.2"/>
<text transform="translate(491.9 235.3) scale(1.0 1)" font-size="5.8" font-weight="normal" text-anchor="middle" letter-spacing="-0.2" style="stroke-width:0.3px">100</text>
<text x="464.4" y="243" font-size="5.4" font-weight="bold" letter-spacing="0.12" text-anchor="middle">prednisolone ug/mL</text>
<clipPath id="clip7"><path d="M414.4 0H520V372H414.4ZM417.5 155.8H421.6V230.4H417.5Z" clip-rule="evenodd"/></clipPath>
<polyline points="413.5,184.9 429,198.4 446.7,204.5 464.2,213.2 481.5,216.5 498.8,217" fill="none" stroke="#bdbdbd" stroke-width="1.3" stroke-linejoin="round" clip-path="url(#clip7)"/>
<polyline points="413.5,184.9 429,185.3 446.7,196.5 464.2,199.3 481.5,204 498.8,208.4" fill="none" stroke="#000" stroke-width="1.4" stroke-linejoin="round" clip-path="url(#clip7)"/>
<path d="M429 195.9V200.7M428.4 195.9H429.6M428.4 200.7H429.6" stroke="#000" stroke-width="1.0" fill="none"/>
<path d="M427.19 196.73H430.81L429 200.07Z" fill="#000"/>
<path d="M444.89 202.83H448.51L446.7 206.17Z" fill="#000"/>
<path d="M462.39 211.53H466.01L464.2 214.87Z" fill="#000"/>
<path d="M481.5 214.5V218.5M480.9 214.5H482.1M480.9 218.5H482.1" stroke="#000" stroke-width="1.0" fill="none"/>
<path d="M479.69 214.83H483.31L481.5 218.17Z" fill="#000"/>
<path d="M496.99 215.33H500.61L498.8 218.67Z" fill="#000"/>
<rect x="412.9" y="184.1" width="2.2" height="1.6"/>
<circle cx="429" cy="185.3" r="1.5" fill="#000"/>
<circle cx="446.7" cy="196.5" r="1.5" fill="#000"/>
<circle cx="464.2" cy="199.3" r="1.5" fill="#000"/>
<circle cx="481.5" cy="204" r="1.5" fill="#000"/>
<path d="M498.8 206.5V210.5M498.2 206.5H499.4M498.2 210.5H499.4" stroke="#000" stroke-width="1.0" fill="none"/>
<circle cx="498.8" cy="208.4" r="1.5" fill="#000"/>
<path d="M453.9 138.8H473.1" stroke="#000" stroke-width="1.5"/>
<circle cx="463.5" cy="138.8" r="2.05" fill="#000"/>
<text x="476" y="141.4" font-size="7.55">control</text>
<path d="M453.9 150.4H473.1" stroke="#bdbdbd" stroke-width="1"/>
<path d="M461.89 148.27H466.51L464.2 152.53Z" fill="#000"/>
<text x="476" y="153.15" font-size="7.55">2DG 0.67mM</text>
<text x="4.4" y="262.2" font-size="7.4" font-weight="bold" font-style="italic">Sensitive</text>
<path d="M34.4 300.9V354.8" stroke="#000" stroke-width="1.2"/>
<path d="M32.2 354.3H34.4" stroke="#000" stroke-width="1.2"/>
<text transform="translate(25.1 357.8) scale(1.0 1)" font-size="5.6" font-weight="normal" text-anchor="middle" letter-spacing="-0.2" style="stroke-width:0.3px">0</text>
<path d="M32.2 343.72H34.4" stroke="#000" stroke-width="1.2"/>
<text transform="translate(24.6 347.22) scale(1.0 1)" font-size="5.6" font-weight="normal" text-anchor="middle" letter-spacing="-0.2" style="stroke-width:0.3px">25</text>
<path d="M32.2 333.14H34.4" stroke="#000" stroke-width="1.2"/>
<text transform="translate(24.6 336.64) scale(1.0 1)" font-size="5.6" font-weight="normal" text-anchor="middle" letter-spacing="-0.2" style="stroke-width:0.3px">50</text>
<path d="M32.2 322.56H34.4" stroke="#000" stroke-width="1.2"/>
<text transform="translate(24.6 326.06) scale(1.0 1)" font-size="5.6" font-weight="normal" text-anchor="middle" letter-spacing="-0.2" style="stroke-width:0.3px">75</text>
<path d="M32.2 311.98H34.4" stroke="#000" stroke-width="1.2"/>
<text transform="translate(24.6 315.48) scale(1.0 1)" font-size="5.6" font-weight="normal" text-anchor="middle" letter-spacing="-0.2" style="stroke-width:0.3px">100</text>
<path d="M32.2 301.4H34.4" stroke="#000" stroke-width="1.2"/>
<text transform="translate(24.6 304.9) scale(1.0 1)" font-size="5.6" font-weight="normal" text-anchor="middle" letter-spacing="-0.2" style="stroke-width:0.3px">125</text>
<path d="M31.9 354.3H38.9M35.7 354.3V355.8" stroke="#000" stroke-width="1.2"/>
<path d="M43.3 354.3H123.9" stroke="#000" stroke-width="1.2"/>
<path d="M43.3 354.3V355.9" stroke="#000" stroke-width="1.2"/>
<text transform="translate(43.2 362.2) scale(1.0 1)" font-size="5.8" font-weight="normal" text-anchor="middle" letter-spacing="-0.2" style="stroke-width:0.3px">0.01</text>
<path d="M60.13 354.3V355.9" stroke="#000" stroke-width="1.2"/>
<text transform="translate(60.03 362.2) scale(1.0 1)" font-size="5.8" font-weight="normal" text-anchor="middle" letter-spacing="-0.2" style="stroke-width:0.3px">0.1</text>
<path d="M76.96 354.3V355.9" stroke="#000" stroke-width="1.2"/>
<text transform="translate(76.86 362.2) scale(1.0 1)" font-size="5.8" font-weight="normal" text-anchor="middle" letter-spacing="-0.2" style="stroke-width:0.3px">1</text>
<path d="M93.79 354.3V355.9" stroke="#000" stroke-width="1.2"/>
<text transform="translate(93.69 362.2) scale(1.0 1)" font-size="5.8" font-weight="normal" text-anchor="middle" letter-spacing="-0.2" style="stroke-width:0.3px">10</text>
<path d="M110.62 354.3V355.9" stroke="#000" stroke-width="1.2"/>
<text transform="translate(110.52 362.2) scale(1.0 1)" font-size="5.8" font-weight="normal" text-anchor="middle" letter-spacing="-0.2" style="stroke-width:0.3px">100</text>
<path d="M123.9 354.3V355.9" stroke="#000" stroke-width="1.2"/>
<text transform="translate(122.6 362.2) scale(1.0 1)" font-size="5.8" font-weight="normal" text-anchor="middle" letter-spacing="-0.2" style="stroke-width:0.3px">1000</text>
<text x="76.7" y="371" font-size="5.4" font-weight="bold" letter-spacing="0.12" text-anchor="middle">prednisolone ug/mL</text>
<clipPath id="clip8"><path d="M35.3 0H520V372H35.3ZM38.4 281.4H43.3V357.3H38.4Z" clip-rule="evenodd"/></clipPath>
<polyline points="34.4,311.3 49.8,335.5 66.6,342.5 83.7,347 101,347 117.9,347.5" fill="none" stroke="#bdbdbd" stroke-width="1.3" stroke-linejoin="round" clip-path="url(#clip8)"/>
<polyline points="34.4,311.3 49.8,323.8 66.6,337.5 83.7,341.2 101,343.1 117.9,344.1" fill="none" stroke="#000" stroke-width="1.4" stroke-linejoin="round" clip-path="url(#clip8)"/>
<path d="M49.8 332.4V340.2M49.2 332.4H50.4M49.2 340.2H50.4" stroke="#000" stroke-width="1.0" fill="none"/>
<path d="M47.99 333.83H51.61L49.8 337.17Z" fill="#000"/>
<path d="M64.79 340.83H68.41L66.6 344.17Z" fill="#000"/>
<path d="M81.89 345.33H85.51L83.7 348.67Z" fill="#000"/>
<path d="M99.19 345.33H102.81L101 348.67Z" fill="#000"/>
<path d="M116.09 345.83H119.71L117.9 349.17Z" fill="#000"/>
<rect x="33.8" y="310.5" width="2.2" height="1.6"/>
<path d="M49.8 320.4V326.9M49.2 320.4H50.4M49.2 326.9H50.4" stroke="#000" stroke-width="1.0" fill="none"/>
<rect x="48.4" y="322.4" width="2.8" height="2.8" fill="#000"/>
<path d="M66.6 335.5V340.2M66 335.5H67.2M66 340.2H67.2" stroke="#000" stroke-width="1.0" fill="none"/>
<rect x="65.2" y="336.1" width="2.8" height="2.8" fill="#000"/>
<path d="M83.7 339.5V343M83.1 339.5H84.3M83.1 343H84.3" stroke="#000" stroke-width="1.0" fill="none"/>
<rect x="82.3" y="339.8" width="2.8" height="2.8" fill="#000"/>
<path d="M101 341.5V344.5M100.4 341.5H101.6M100.4 344.5H101.6" stroke="#000" stroke-width="1.0" fill="none"/>
<rect x="99.6" y="341.7" width="2.8" height="2.8" fill="#000"/>
<path d="M117.9 342.5V345.5M117.3 342.5H118.5M117.3 345.5H118.5" stroke="#000" stroke-width="1.0" fill="none"/>
<rect x="116.5" y="342.7" width="2.8" height="2.8" fill="#000"/>
<path d="M64.8 268.8H84.6" stroke="#000" stroke-width="1.5"/>
<rect x="72.9" y="267" width="3.6" height="3.6" fill="#000"/>
<text x="87.9" y="271.4" font-size="7.55">control</text>
<path d="M64.8 280.4H84.6" stroke="#bdbdbd" stroke-width="1"/>
<path d="M73.09 278.27H77.71L75.4 282.53Z" fill="#000"/>
<text x="87.9" y="283.15" font-size="7.55">2DG 0.67mM</text>
<text transform="translate(13.8 324.6) rotate(-90) scale(0.92 1)" font-size="5.5" font-weight="bold" text-anchor="middle">Cell survival (%)</text>
<path d="M3 307.2L5.8 312.8H0.2Z" fill="#000"/>
<rect x="2.1" y="312.8" width="1.8" height="10" fill="url(#ag)"/>
<path d="M156.8 302.4V355" stroke="#000" stroke-width="1.2"/>
<path d="M154.6 354.5H156.8" stroke="#000" stroke-width="1.2"/>
<text transform="translate(148 358) scale(1.0 1)" font-size="5.6" font-weight="normal" text-anchor="middle" letter-spacing="-0.2" style="stroke-width:0.3px">0</text>
<path d="M154.6 344.18H156.8" stroke="#000" stroke-width="1.2"/>
<text transform="translate(147.5 347.68) scale(1.0 1)" font-size="5.6" font-weight="normal" text-anchor="middle" letter-spacing="-0.2" style="stroke-width:0.3px">25</text>
<path d="M154.6 333.86H156.8" stroke="#000" stroke-width="1.2"/>
<text transform="translate(147.5 337.36) scale(1.0 1)" font-size="5.6" font-weight="normal" text-anchor="middle" letter-spacing="-0.2" style="stroke-width:0.3px">50</text>
<path d="M154.6 323.54H156.8" stroke="#000" stroke-width="1.2"/>
<text transform="translate(147.5 327.04) scale(1.0 1)" font-size="5.6" font-weight="normal" text-anchor="middle" letter-spacing="-0.2" style="stroke-width:0.3px">75</text>
<path d="M154.6 313.22H156.8" stroke="#000" stroke-width="1.2"/>
<text transform="translate(147.5 316.72) scale(1.0 1)" font-size="5.6" font-weight="normal" text-anchor="middle" letter-spacing="-0.2" style="stroke-width:0.3px">100</text>
<path d="M154.6 302.9H156.8" stroke="#000" stroke-width="1.2"/>
<text transform="translate(147.5 306.4) scale(1.0 1)" font-size="5.6" font-weight="normal" text-anchor="middle" letter-spacing="-0.2" style="stroke-width:0.3px">125</text>
<path d="M154.3 354.5H161.3M158.1 354.5V356" stroke="#000" stroke-width="1.2"/>
<path d="M165.1 354.5H246.1" stroke="#000" stroke-width="1.2"/>
<path d="M165.1 354.5V356.1" stroke="#000" stroke-width="1.2"/>
<text transform="translate(165 362.4) scale(1.0 1)" font-size="5.8" font-weight="normal" text-anchor="middle" letter-spacing="-0.2" style="stroke-width:0.3px">0.01</text>
<path d="M181.37 354.5V356.1" stroke="#000" stroke-width="1.2"/>
<text transform="translate(181.27 362.4) scale(1.0 1)" font-size="5.8" font-weight="normal" text-anchor="middle" letter-spacing="-0.2" style="stroke-width:0.3px">0.1</text>
<path d="M197.64 354.5V356.1" stroke="#000" stroke-width="1.2"/>
<text transform="translate(197.54 362.4) scale(1.0 1)" font-size="5.8" font-weight="normal" text-anchor="middle" letter-spacing="-0.2" style="stroke-width:0.3px">1</text>
<path d="M213.91 354.5V356.1" stroke="#000" stroke-width="1.2"/>
<text transform="translate(213.81 362.4) scale(1.0 1)" font-size="5.8" font-weight="normal" text-anchor="middle" letter-spacing="-0.2" style="stroke-width:0.3px">10</text>
<path d="M230.18 354.5V356.1" stroke="#000" stroke-width="1.2"/>
<text transform="translate(230.08 362.4) scale(1.0 1)" font-size="5.8" font-weight="normal" text-anchor="middle" letter-spacing="-0.2" style="stroke-width:0.3px">100</text>
<path d="M246.1 354.5V356.1" stroke="#000" stroke-width="1.2"/>
<text transform="translate(246 362.4) scale(1.0 1)" font-size="5.8" font-weight="normal" text-anchor="middle" letter-spacing="-0.2" style="stroke-width:0.3px">1000</text>
<text x="200.2" y="371" font-size="5.4" font-weight="bold" letter-spacing="0.12" text-anchor="middle">prednisolone ug/mL</text>
<clipPath id="clip9"><path d="M157.7 0H520V372H157.7ZM160.8 282.9H165.1V357.5H160.8Z" clip-rule="evenodd"/></clipPath>
<polyline points="156.8,312.9 188.1,332.5 203.8,340.2 220.2,339.8 236.5,341.6" fill="none" stroke="#bdbdbd" stroke-width="1.3" stroke-linejoin="round" clip-path="url(#clip9)"/>
<clipPath id="clip9n"><rect x="165.1" y="0" width="520" height="372"/></clipPath>
<polyline points="156.8,312.9 188.1,331.2 203.8,340.2 220.2,339.3 236.5,341.6" fill="none" stroke="#000" stroke-width="1.4" stroke-linejoin="round" clip-path="url(#clip9n)"/>
<path d="M186.29 330.83H189.91L188.1 334.17Z" fill="#000"/>
<path d="M201.99 338.53H205.61L203.8 341.87Z" fill="#000"/>
<path d="M218.39 338.13H222.01L220.2 341.47Z" fill="#000"/>
<path d="M234.69 339.93H238.31L236.5 343.27Z" fill="#000"/>
<rect x="156.2" y="312.1" width="2.2" height="1.6"/>
<rect x="186.7" y="329.8" width="2.8" height="2.8" fill="#000"/>
<rect x="202.4" y="338.8" width="2.8" height="2.8" fill="#000"/>
<rect x="218.8" y="337.9" width="2.8" height="2.8" fill="#000"/>
<rect x="235.1" y="340.2" width="2.8" height="2.8" fill="#000"/>
<path d="M192.9 268.8H212.4" stroke="#000" stroke-width="1.5"/>
<rect x="200.85" y="267" width="3.6" height="3.6" fill="#000"/>
<text x="215.3" y="271.4" font-size="7.55">control</text>
<path d="M192.9 280.4H212.4" stroke="#bdbdbd" stroke-width="1"/>
<path d="M201.04 278.27H205.66L203.35 282.53Z" fill="#000"/>
<text x="215.3" y="283.15" font-size="7.55">2DG 0.67mM</text>
<path d="M282.1 302.5V354.9" stroke="#000" stroke-width="1.2"/>
<path d="M279.9 354.4H282.1" stroke="#000" stroke-width="1.2"/>
<text transform="translate(273.5 357.9) scale(1.0 1)" font-size="5.6" font-weight="normal" text-anchor="middle" letter-spacing="-0.2" style="stroke-width:0.3px">0</text>
<path d="M279.9 344.12H282.1" stroke="#000" stroke-width="1.2"/>
<text transform="translate(273 347.62) scale(1.0 1)" font-size="5.6" font-weight="normal" text-anchor="middle" letter-spacing="-0.2" style="stroke-width:0.3px">25</text>
<path d="M279.9 333.84H282.1" stroke="#000" stroke-width="1.2"/>
<text transform="translate(273 337.34) scale(1.0 1)" font-size="5.6" font-weight="normal" text-anchor="middle" letter-spacing="-0.2" style="stroke-width:0.3px">50</text>
<path d="M279.9 323.56H282.1" stroke="#000" stroke-width="1.2"/>
<text transform="translate(273 327.06) scale(1.0 1)" font-size="5.6" font-weight="normal" text-anchor="middle" letter-spacing="-0.2" style="stroke-width:0.3px">75</text>
<path d="M279.9 313.28H282.1" stroke="#000" stroke-width="1.2"/>
<text transform="translate(273 316.78) scale(1.0 1)" font-size="5.6" font-weight="normal" text-anchor="middle" letter-spacing="-0.2" style="stroke-width:0.3px">100</text>
<path d="M279.9 303H282.1" stroke="#000" stroke-width="1.2"/>
<text transform="translate(273 306.5) scale(1.0 1)" font-size="5.6" font-weight="normal" text-anchor="middle" letter-spacing="-0.2" style="stroke-width:0.3px">125</text>
<path d="M279.6 354.4H286.6M283.4 354.4V355.9" stroke="#000" stroke-width="1.2"/>
<path d="M290.9 354.4H371.3" stroke="#000" stroke-width="1.2"/>
<path d="M290.9 354.4V356" stroke="#000" stroke-width="1.2"/>
<text transform="translate(290.8 362.3) scale(1.0 1)" font-size="5.8" font-weight="normal" text-anchor="middle" letter-spacing="-0.2" style="stroke-width:0.3px">0.01</text>
<path d="M307.1 354.4V356" stroke="#000" stroke-width="1.2"/>
<text transform="translate(307 362.3) scale(1.0 1)" font-size="5.8" font-weight="normal" text-anchor="middle" letter-spacing="-0.2" style="stroke-width:0.3px">0.1</text>
<path d="M323.3 354.4V356" stroke="#000" stroke-width="1.2"/>
<text transform="translate(323.2 362.3) scale(1.0 1)" font-size="5.8" font-weight="normal" text-anchor="middle" letter-spacing="-0.2" style="stroke-width:0.3px">1</text>
<path d="M339.5 354.4V356" stroke="#000" stroke-width="1.2"/>
<text transform="translate(339.4 362.3) scale(1.0 1)" font-size="5.8" font-weight="normal" text-anchor="middle" letter-spacing="-0.2" style="stroke-width:0.3px">10</text>
<path d="M355.7 354.4V356" stroke="#000" stroke-width="1.2"/>
<text transform="translate(355.6 362.3) scale(1.0 1)" font-size="5.8" font-weight="normal" text-anchor="middle" letter-spacing="-0.2" style="stroke-width:0.3px">100</text>
<path d="M371.3 354.4V356" stroke="#000" stroke-width="1.2"/>
<text transform="translate(371.2 362.3) scale(1.0 1)" font-size="5.8" font-weight="normal" text-anchor="middle" letter-spacing="-0.2" style="stroke-width:0.3px">1000</text>
<text x="334.8" y="371" font-size="5.4" font-weight="bold" letter-spacing="0.12" text-anchor="middle">prednisolone ug/mL</text>
<clipPath id="clip10"><path d="M283 0H520V372H283ZM286.1 283H290.9V357.4H286.1Z" clip-rule="evenodd"/></clipPath>
<polyline points="282.1,312.9 313.5,338.7 329.8,336.8 345.6,339.3 361.6,341.6" fill="none" stroke="#bdbdbd" stroke-width="1.3" stroke-linejoin="round" clip-path="url(#clip10)"/>
<clipPath id="clip10n"><rect x="290.9" y="0" width="520" height="372"/></clipPath>
<polyline points="282.1,312.9 313.5,335.8 329.8,335.8 345.6,338.7 361.6,341.6" fill="none" stroke="#000" stroke-width="1.4" stroke-linejoin="round" clip-path="url(#clip10n)"/>
<path d="M311.69 337.03H315.31L313.5 340.37Z" fill="#000"/>
<path d="M327.99 335.13H331.61L329.8 338.47Z" fill="#000"/>
<path d="M343.79 337.63H347.41L345.6 340.97Z" fill="#000"/>
<path d="M359.79 339.93H363.41L361.6 343.27Z" fill="#000"/>
<rect x="280.9" y="311.4" width="3" height="3" fill="#000"/>
<circle cx="313.5" cy="335.8" r="1.5" fill="#000"/>
<circle cx="329.8" cy="335.8" r="1.5" fill="#000"/>
<circle cx="345.6" cy="338.7" r="1.5" fill="#000"/>
<circle cx="361.6" cy="341.6" r="1.5" fill="#000"/>
<path d="M322.3 269.5H341.7" stroke="#000" stroke-width="1.5"/>
<circle cx="332" cy="269.5" r="2.05" fill="#000"/>
<text x="345" y="272.1" font-size="7.55">control</text>
<path d="M322.3 280.8H341.7" stroke="#bdbdbd" stroke-width="1"/>
<path d="M330.39 278.67H335.01L332.7 282.93Z" fill="#000"/>
<text x="345" y="283.55" font-size="7.55">2DG 0.2mM</text>
<path d="M413.4 304V355.3" stroke="#000" stroke-width="1.2"/>
<path d="M411.2 354.8H413.4" stroke="#000" stroke-width="1.2"/>
<text transform="translate(405.1 358.3) scale(1.0 1)" font-size="5.6" font-weight="normal" text-anchor="middle" letter-spacing="-0.2" style="stroke-width:0.3px">0</text>
<path d="M411.2 344.74H413.4" stroke="#000" stroke-width="1.2"/>
<text transform="translate(404.6 348.24) scale(1.0 1)" font-size="5.6" font-weight="normal" text-anchor="middle" letter-spacing="-0.2" style="stroke-width:0.3px">25</text>
<path d="M411.2 334.68H413.4" stroke="#000" stroke-width="1.2"/>
<text transform="translate(404.6 338.18) scale(1.0 1)" font-size="5.6" font-weight="normal" text-anchor="middle" letter-spacing="-0.2" style="stroke-width:0.3px">50</text>
<path d="M411.2 324.62H413.4" stroke="#000" stroke-width="1.2"/>
<text transform="translate(404.6 328.12) scale(1.0 1)" font-size="5.6" font-weight="normal" text-anchor="middle" letter-spacing="-0.2" style="stroke-width:0.3px">75</text>
<path d="M411.2 314.56H413.4" stroke="#000" stroke-width="1.2"/>
<text transform="translate(404.6 318.06) scale(1.0 1)" font-size="5.6" font-weight="normal" text-anchor="middle" letter-spacing="-0.2" style="stroke-width:0.3px">100</text>
<path d="M411.2 304.5H413.4" stroke="#000" stroke-width="1.2"/>
<text transform="translate(404.6 308) scale(1.0 1)" font-size="5.6" font-weight="normal" text-anchor="middle" letter-spacing="-0.2" style="stroke-width:0.3px">125</text>
<path d="M410.9 354.8H417.9M414.7 354.8V356.3" stroke="#000" stroke-width="1.2"/>
<path d="M421.5 354.8H503.7" stroke="#000" stroke-width="1.2"/>
<path d="M421.5 354.8V356.4" stroke="#000" stroke-width="1.2"/>
<text transform="translate(421.4 362.7) scale(1.0 1)" font-size="5.8" font-weight="normal" text-anchor="middle" letter-spacing="-0.2" style="stroke-width:0.3px">0.01</text>
<path d="M437.65 354.8V356.4" stroke="#000" stroke-width="1.2"/>
<text transform="translate(437.55 362.7) scale(1.0 1)" font-size="5.8" font-weight="normal" text-anchor="middle" letter-spacing="-0.2" style="stroke-width:0.3px">0.1</text>
<path d="M453.8 354.8V356.4" stroke="#000" stroke-width="1.2"/>
<text transform="translate(453.7 362.7) scale(1.0 1)" font-size="5.8" font-weight="normal" text-anchor="middle" letter-spacing="-0.2" style="stroke-width:0.3px">1</text>
<path d="M469.95 354.8V356.4" stroke="#000" stroke-width="1.2"/>
<text transform="translate(469.85 362.7) scale(1.0 1)" font-size="5.8" font-weight="normal" text-anchor="middle" letter-spacing="-0.2" style="stroke-width:0.3px">10</text>
<path d="M486.1 354.8V356.4" stroke="#000" stroke-width="1.2"/>
<text transform="translate(486 362.7) scale(1.0 1)" font-size="5.8" font-weight="normal" text-anchor="middle" letter-spacing="-0.2" style="stroke-width:0.3px">100</text>
<path d="M503.7 354.8V356.4" stroke="#000" stroke-width="1.2"/>
<text transform="translate(502.3 362.7) scale(1.0 1)" font-size="5.8" font-weight="normal" text-anchor="middle" letter-spacing="-0.2" style="stroke-width:0.3px">1000</text>
<text x="464.8" y="371" font-size="5.4" font-weight="bold" letter-spacing="0.12" text-anchor="middle">prednisolone ug/mL</text>
<clipPath id="clip11"><path d="M414.3 0H520V372H414.3ZM417.4 284.5H421.5V357.8H417.4Z" clip-rule="evenodd"/></clipPath>
<polyline points="413.4,314.2 444.4,345.4 460.8,343.1 476.5,348.3 492.5,346.4" fill="none" stroke="#bdbdbd" stroke-width="1.3" stroke-linejoin="round"/>
<polyline points="444.4,345 460.8,345.4 476.5,347 492.5,345.6" fill="none" stroke="#000" stroke-width="1.4" stroke-linejoin="round" clip-path="url(#clip11)"/>
<path d="M442.59 343.73H446.21L444.4 347.07Z" fill="#000"/>
<path d="M460.8 342.2V346.4M460.2 342.2H461.4M460.2 346.4H461.4" stroke="#000" stroke-width="1.0" fill="none"/>
<path d="M458.99 341.43H462.61L460.8 344.77Z" fill="#000"/>
<path d="M474.69 346.63H478.31L476.5 349.97Z" fill="#000"/>
<path d="M490.69 344.73H494.31L492.5 348.07Z" fill="#000"/>
<rect x="443" y="343.6" width="2.8" height="2.8" fill="#000"/>
<path d="M460.8 343V347.5M460.2 343H461.4M460.2 347.5H461.4" stroke="#000" stroke-width="1.0" fill="none"/>
<rect x="459.4" y="344" width="2.8" height="2.8" fill="#000"/>
<rect x="475.1" y="345.6" width="2.8" height="2.8" fill="#000"/>
<rect x="491.1" y="344.2" width="2.8" height="2.8" fill="#000"/>
<rect x="412.35" y="313.21" width="2.7" height="2.7" fill="#000"/>
<path d="M458 268.8H477.5" stroke="#000" stroke-width="1.5"/>
<rect x="465.95" y="267" width="3.6" height="3.6" fill="#000"/>
<text x="480.3" y="271.4" font-size="7.55">control</text>
<path d="M458 280.4H477.5" stroke="#bdbdbd" stroke-width="1"/>
<path d="M466.14 278.27H470.76L468.45 282.53Z" fill="#000"/>
<text x="480.3" y="283.15" font-size="7.55">2DG 0.2mM</text>
</g>
</svg>
</body></html>
